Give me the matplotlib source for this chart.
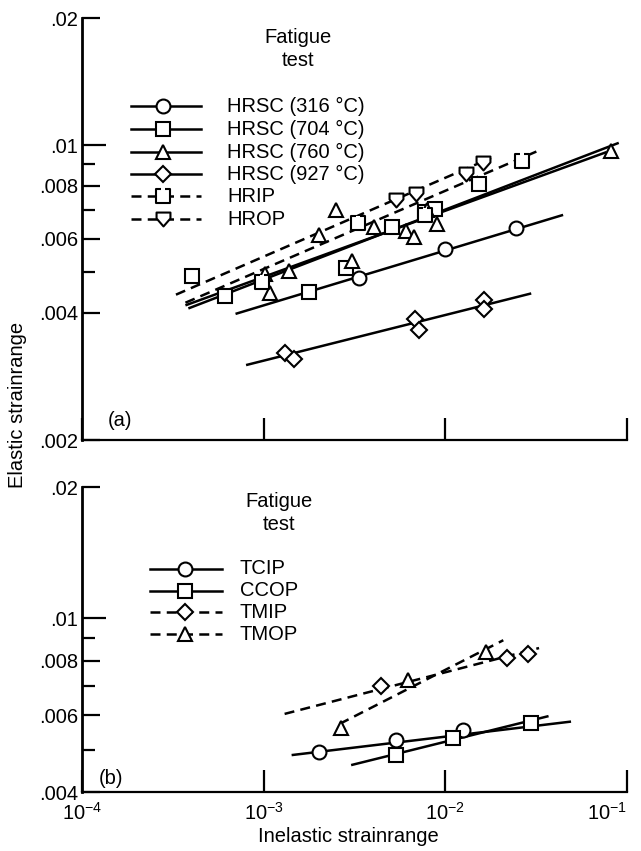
import matplotlib
matplotlib.use("Agg")
import matplotlib.pyplot as plt
from matplotlib import font_manager
from matplotlib.lines import Line2D
from matplotlib.path import Path
from matplotlib.ticker import FixedLocator, NullFormatter, NullLocator

# ---- panel (a): fatigue tests, markers and fitted lines ----
hrsc316_x = [0.00336, 0.0100, 0.0244]
hrsc316_y = [0.00485, 0.00568, 0.00636]
hrsc316_fit_x = [0.0007, 0.0445]
hrsc316_fit_y = [0.00398, 0.00683]

hrsc704_x = [0.000401, 0.000609, 0.00177, 0.00284, 0.0051, 0.00774, 0.00882, 0.0153]
hrsc704_y = [0.00489, 0.00438, 0.00449, 0.00511, 0.00638, 0.00695, 0.00707, 0.0081]
hrsc704_fit_x = [0.000371, 0.077]
hrsc704_fit_y = [0.00417, 0.00962]

hrsc760_x = [0.00102, 0.00108, 0.00137, 0.00202, 0.00249, 0.00307, 0.00403,
             0.00606, 0.00669, 0.00794, 0.00905, 0.0812]
hrsc760_y = [0.00494, 0.00445, 0.00502, 0.00611, 0.00701, 0.0053, 0.00638,
             0.00625, 0.00604, 0.00701, 0.00649, 0.0097]
hrsc760_fit_x = [0.000385, 0.0901]
hrsc760_fit_y = [0.0041, 0.01012]

hrsc927_x = [0.00131, 0.00146, 0.00679, 0.00716, 0.0163, 0.0163]
hrsc927_y = [0.00322, 0.00312, 0.00388, 0.00364, 0.00429, 0.00409]
hrsc927_fit_x = [0.0008, 0.0297]
hrsc927_fit_y = [0.00301, 0.00445]

hrip_x = [0.000984, 0.00332, 0.00774, 0.0264]
hrip_y = [0.00473, 0.00654, 0.00683, 0.00917]
hrip_fit_x = [0.000371, 0.0317]
hrip_fit_y = [0.00423, 0.00965]

hrop_x = [0.00532, 0.00687, 0.01305, 0.01608]
hrop_y = [0.00742, 0.00767, 0.00853, 0.00906]
hrop_fit_x = [0.000329, 0.01785]
hrop_fit_y = [0.00442, 0.00932]

# ---- panel (b): thermomechanical tests ----
tcip_x = [0.00202, 0.00532, 0.01258]
tcip_y = [0.00494, 0.00526, 0.00555]
tcip_fit_x = [0.001425, 0.0492]
tcip_fit_y = [0.00486, 0.0058]

ccop_x = [0.00532, 0.01099, 0.02955]
ccop_y = [0.00486, 0.00531, 0.00575]
ccop_fit_x = [0.00303, 0.037]
ccop_fit_y = [0.00461, 0.00597]

tmip_x = [0.00441, 0.02173, 0.0285]
tmip_y = [0.00698, 0.00811, 0.0083]
tmip_fit_x = [0.001304, 0.0328]
tmip_fit_y = [0.00604, 0.00855]

tmop_x = [0.00266, 0.00622, 0.01675]
tmop_y = [0.0056, 0.00721, 0.00836]
tmop_fit_x = [0.00262, 0.02085]
tmop_fit_y = [0.00573, 0.00891]

labels_a = ["HRSC (316 °C)", "HRSC (704 °C)", "HRSC (760 °C)", "HRSC (927 °C)", "HRIP", "HROP"]
labels_b = ["TCIP", "CCOP", "TMIP", "TMOP"]

x_ticks = [1e-4, 1e-3, 1e-2, 1e-1]
x_ticklabels = ["10$^{-4}$", "10$^{-3}$", "10$^{-2}$", "10$^{-1}$"]
y_ticks_a = [0.002, 0.004, 0.006, 0.008, 0.01, 0.02]
y_ticklabels_a = [".002", ".004", ".006", ".008", ".01", ".02"]
y_ticks_b = [0.004, 0.006, 0.008, 0.01, 0.02]
y_ticklabels_b = [".004", ".006", ".008", ".01", ".02"]
y_minor = [0.005, 0.007, 0.009]

# fonts: narrow helvetica look if available
names = {f.name for f in font_manager.fontManager.ttflist}
family = "Liberation Sans Narrow" if "Liberation Sans Narrow" in names else "Liberation Sans"
plt.rcParams["font.family"] = [family, "DejaVu Sans"]
plt.rcParams["mathtext.fontset"] = "custom"
plt.rcParams["mathtext.rm"] = family
plt.rcParams["mathtext.default"] = "rm"

FS = 14.5
W, H = 641, 851

# custom markers
hrip_marker = Path([(-0.35, 1), (-1, 1), (-1, -1), (1, -1), (1, 1), (0.35, 1)],
                   [Path.MOVETO, Path.LINETO, Path.LINETO, Path.LINETO, Path.LINETO, Path.LINETO])
hrop_marker = Path([(-1, 1), (1, 1), (1, 0.15), (0, -1), (-1, 0.15), (-1, 1)],
                   [Path.MOVETO, Path.LINETO, Path.LINETO, Path.LINETO, Path.LINETO, Path.CLOSEPOLY])

MS = {"o": 10, "s": 9.5, "^": 10, "D": 8, hrip_marker: 9.5, hrop_marker: 10}

fig = plt.figure(figsize=(W / 100, H / 100), dpi=100)
ax_a = fig.add_axes([82 / W, 1 - 440 / H, 545 / W, 422 / H])
ax_b = fig.add_axes([82 / W, 1 - 792 / H, 545 / W, 305 / H])


def style_axis(ax, yticks, yticklabels, ylim, show_xlabels):
    ax.set_xscale("log")
    ax.set_yscale("log")
    ax.set_xlim(1e-4, 1e-1)
    ax.set_ylim(*ylim)
    for side in ("top", "right"):
        ax.spines[side].set_visible(False)
    ax.spines["left"].set_linewidth(2.0)
    ax.spines["bottom"].set_linewidth(1.6)
    ax.xaxis.set_major_locator(FixedLocator(x_ticks))
    ax.xaxis.set_minor_locator(NullLocator())
    if show_xlabels:
        ax.set_xticklabels(x_ticklabels, fontsize=FS)
        ax.get_xticklabels()[-1].set_horizontalalignment("right")
    else:
        ax.xaxis.set_major_formatter(NullFormatter())
    ax.yaxis.set_major_locator(FixedLocator(yticks))
    ax.set_yticklabels(yticklabels, fontsize=FS)
    ax.yaxis.set_minor_locator(FixedLocator(y_minor))
    ax.yaxis.set_minor_formatter(NullFormatter())
    ax.tick_params(axis="x", which="major", direction="in", length=16, width=1.6, pad=7)
    ax.tick_params(axis="y", which="major", direction="in", length=13, width=1.6, pad=3)
    ax.tick_params(axis="y", which="minor", direction="in", length=9, width=1.6)
    for val, tick in zip(yticks, ax.yaxis.get_major_ticks()):
        if val == 0.01:
            tick.tick1line.set_markersize(17)


def series(ax, fx, fy, px, py, marker, dashed):
    ls = (0, (4, 2.5)) if dashed else "-"
    ax.plot(fx, fy, color="black", lw=1.8, linestyle=ls, zorder=2, solid_capstyle="butt")
    ax.plot(px, py, linestyle="none", marker=marker, markersize=MS[marker],
            markerfacecolor="white", markeredgecolor="black", markeredgewidth=1.5, zorder=3)


def legend_row(y, x0, xm, x1, xt, marker, dashed, text):
    ls = (0, (4, 2.5)) if dashed else "-"
    yy = 1 - y / H
    fig.add_artist(Line2D([x0 / W, x1 / W], [yy, yy], transform=fig.transFigure,
                          color="black", lw=1.8, linestyle=ls))
    fig.add_artist(Line2D([xm / W], [yy], transform=fig.transFigure, linestyle="none",
                          marker=marker, markersize=MS[marker], markerfacecolor="white",
                          markeredgecolor="black", markeredgewidth=1.5))
    fig.text(xt / W, yy, text, fontsize=FS, va="center", ha="left")


style_axis(ax_a, y_ticks_a, y_ticklabels_a, (0.002, 0.02), False)
style_axis(ax_b, y_ticks_b, y_ticklabels_b, (0.004, 0.02), True)

series(ax_a, hrsc316_fit_x, hrsc316_fit_y, hrsc316_x, hrsc316_y, "o", False)
series(ax_a, hrsc704_fit_x, hrsc704_fit_y, hrsc704_x, hrsc704_y, "s", False)
series(ax_a, hrsc760_fit_x, hrsc760_fit_y, hrsc760_x, hrsc760_y, "^", False)
series(ax_a, hrsc927_fit_x, hrsc927_fit_y, hrsc927_x, hrsc927_y, "D", False)
series(ax_a, hrip_fit_x, hrip_fit_y, hrip_x, hrip_y, hrip_marker, True)
series(ax_a, hrop_fit_x, hrop_fit_y, hrop_x, hrop_y, hrop_marker, True)

series(ax_b, tcip_fit_x, tcip_fit_y, tcip_x, tcip_y, "o", False)
series(ax_b, ccop_fit_x, ccop_fit_y, ccop_x, ccop_y, "s", False)
series(ax_b, tmip_fit_x, tmip_fit_y, tmip_x, tmip_y, "D", True)
series(ax_b, tmop_fit_x, tmop_fit_y, tmop_x, tmop_y, "^", True)

# legends drawn by hand, like the drafted original
markers_a = ["o", "s", "^", "D", hrip_marker, hrop_marker]
dashed_a = [False, False, False, False, True, True]
rows_a = [106, 129, 152, 174, 196, 219]
for y, m, d, t in zip(rows_a, markers_a, dashed_a, labels_a):
    legend_row(y, 131, 163, 201, 227, m, d, t)

markers_b = ["o", "s", "D", "^"]
dashed_b = [False, False, True, True]
rows_b = [569, 591, 612, 634]
for y, m, d, t in zip(rows_b, markers_b, dashed_b, labels_b):
    legend_row(y, 150, 185, 222, 240, m, d, t)

fig.text(298 / W, 1 - 49 / H, "Fatigue\ntest", fontsize=FS, ha="center", va="center",
         linespacing=1.25)
fig.text(279 / W, 1 - 513 / H, "Fatigue\ntest", fontsize=FS, ha="center", va="center",
         linespacing=1.25)
fig.text(120 / W, 1 - 420 / H, "(a)", fontsize=FS, ha="center", va="center")
fig.text(111 / W, 1 - 779 / H, "(b)", fontsize=FS, ha="center", va="center")

fig.text(18 / W, 1 - 405 / H, "Elastic strainrange", fontsize=FS, rotation=90,
         ha="center", va="center")
fig.text(348 / W, 1 - 836 / H, "Inelastic strainrange", fontsize=FS, ha="center", va="center")

fig.savefig("out.png", dpi=100)
